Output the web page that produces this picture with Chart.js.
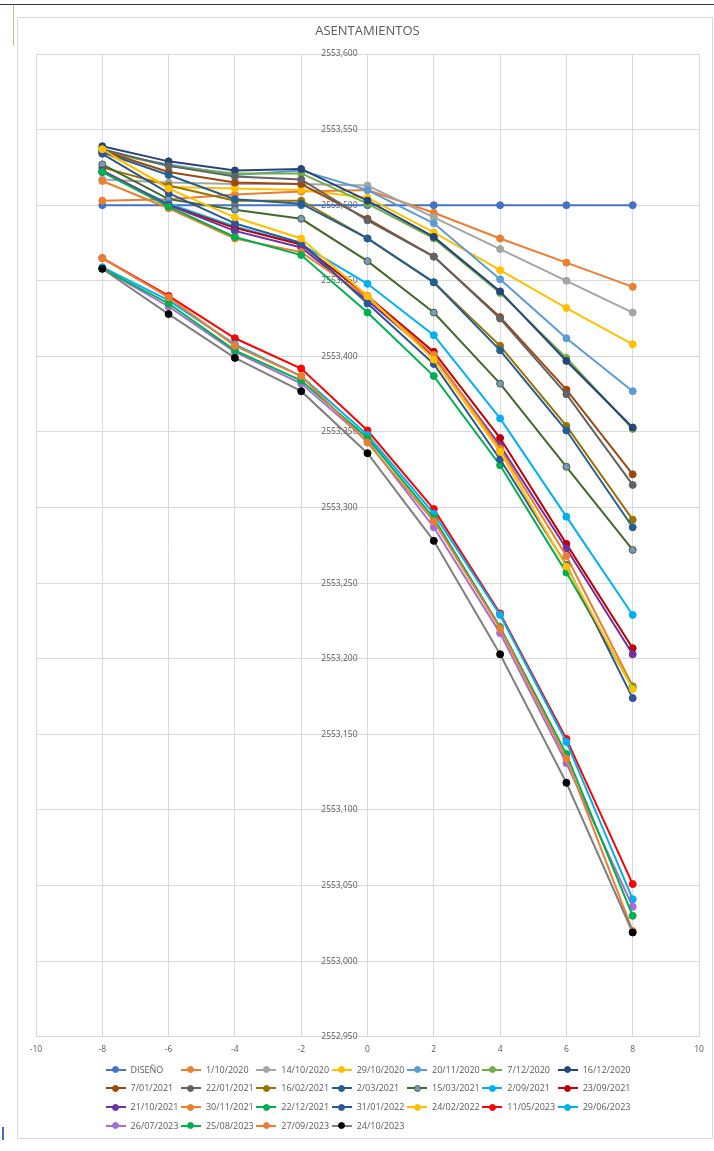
<!DOCTYPE html>
<html>
<head>
<meta charset="utf-8">
<script src="https://cdn.jsdelivr.net/npm/chart.js@4/dist/chart.umd.min.js"></script>
<style>
html,body{margin:0;padding:0;background:#fff;width:714px;height:1151px;overflow:hidden;font-family:"Open Sans",sans-serif;}
#topline{position:absolute;left:0;top:4px;width:714px;height:1px;background:#3a3a3a;}
#greenline{position:absolute;left:13px;top:5px;width:1px;height:40px;background:#a9c98a;}
#bluemark{position:absolute;left:2px;top:1127px;width:2px;height:13px;background:#4a6fb5;}
#frame{position:absolute;left:17px;top:17px;width:696px;height:1122px;border:1px solid #d9d9d9;box-sizing:border-box;}
#wrap{position:absolute;left:17px;top:17px;width:695px;height:1050px;}
#legend{position:absolute;left:0;top:0;width:714px;height:1151px;pointer-events:none;}
.item{position:absolute;height:12px;}
.item .ln{position:absolute;left:0;top:5px;width:20px;height:2px;}
.item .dt{position:absolute;left:6.5px;top:2.5px;width:7px;height:7px;border-radius:50%;box-sizing:border-box;}
.item .tx{position:absolute;left:25px;top:-1px;font-size:9px;line-height:13px;color:#595959;white-space:nowrap;font-family:"Open Sans",sans-serif;}
</style>
</head>
<body>
<div id="topline"></div>
<div id="greenline"></div>
<div id="bluemark"></div>
<div id="frame"></div>
<div id="wrap"><canvas id="c"></canvas></div>
<div id="legend"></div>
<script>
// ---- data ----
const xValues = [-8, -6, -4, -2, 0, 2, 4, 6, 8];
const seriesNames = ['DISEÑO','1/10/2020','14/10/2020','29/10/2020','20/11/2020','7/12/2020','16/12/2020',
  '7/01/2021','22/01/2021','16/02/2021','2/03/2021','15/03/2021','2/09/2021','23/09/2021',
  '21/10/2021','30/11/2021','22/12/2021','31/01/2022','24/02/2022','11/05/2023','29/06/2023',
  '26/07/2023','25/08/2023','27/09/2023','24/10/2023'];

const diseno     = [2553.500, 2553.500, 2553.500, 2553.500, 2553.500, 2553.500, 2553.500, 2553.500, 2553.500];
const d01_10_2020 = [2553.503, 2553.504, 2553.507, 2553.509, 2553.510, 2553.495, 2553.478, 2553.462, 2553.446];
const d14_10_2020 = [2553.517, 2553.515, 2553.514, 2553.514, 2553.513, 2553.492, 2553.471, 2553.450, 2553.429];
const d29_10_2020 = [2553.536, 2553.512, 2553.511, 2553.510, 2553.505, 2553.482, 2553.457, 2553.432, 2553.408];
const d20_11_2020 = [2553.535, 2553.527, 2553.520, 2553.523, 2553.510, 2553.488, 2553.451, 2553.412, 2553.377];
const d07_12_2020 = [2553.536, 2553.526, 2553.521, 2553.521, 2553.501, 2553.478, 2553.442, 2553.399, 2553.352];
const d16_12_2020 = [2553.539, 2553.529, 2553.523, 2553.524, 2553.503, 2553.479, 2553.443, 2553.397, 2553.353];
const d07_01_2021 = [2553.536, 2553.522, 2553.515, 2553.514, 2553.491, 2553.466, 2553.426, 2553.378, 2553.322];
const d22_01_2021 = [2553.537, 2553.526, 2553.519, 2553.517, 2553.490, 2553.466, 2553.425, 2553.375, 2553.315];
const d16_02_2021 = [2553.525, 2553.513, 2553.503, 2553.503, 2553.478, 2553.449, 2553.407, 2553.354, 2553.292];
const d02_03_2021 = [2553.535, 2553.520, 2553.504, 2553.501, 2553.478, 2553.449, 2553.404, 2553.351, 2553.287];
const d15_03_2021 = [2553.527, 2553.504, 2553.497, 2553.491, 2553.463, 2553.429, 2553.382, 2553.327, 2553.272];
const d02_09_2021 = [2553.522, 2553.501, 2553.486, 2553.474, 2553.448, 2553.414, 2553.359, 2553.294, 2553.229];
const d23_09_2021 = [2553.522, 2553.500, 2553.485, 2553.474, 2553.440, 2553.403, 2553.346, 2553.276, 2553.207];
const d21_10_2021 = [2553.523, 2553.500, 2553.483, 2553.472, 2553.437, 2553.400, 2553.341, 2553.273, 2553.203];
const d30_11_2021 = [2553.516, 2553.498, 2553.478, 2553.469, 2553.439, 2553.401, 2553.339, 2553.268, 2553.182];
const d22_12_2021 = [2553.522, 2553.499, 2553.479, 2553.467, 2553.429, 2553.387, 2553.328, 2553.257, 2553.181];
const d31_01_2022 = [2553.534, 2553.508, 2553.488, 2553.475, 2553.435, 2553.395, 2553.332, 2553.262, 2553.174];
const d24_02_2022 = [2553.537, 2553.511, 2553.492, 2553.478, 2553.440, 2553.398, 2553.337, 2553.261, 2553.180];
const d11_05_2023 = [2553.465, 2553.440, 2553.412, 2553.392, 2553.351, 2553.299, 2553.230, 2553.147, 2553.051];
const d29_06_2023 = [2553.459, 2553.437, 2553.408, 2553.387, 2553.348, 2553.296, 2553.229, 2553.145, 2553.041];
const d26_07_2023 = [2553.458, 2553.433, 2553.403, 2553.382, 2553.344, 2553.287, 2553.217, 2553.131, 2553.036];
const d25_08_2023 = [2553.458, 2553.435, 2553.404, 2553.384, 2553.346, 2553.293, 2553.221, 2553.137, 2553.030];
const d27_09_2023 = [2553.465, 2553.439, 2553.407, 2553.387, 2553.343, 2553.291, 2553.220, 2553.134, 2553.020];
const d24_10_2023 = [2553.458, 2553.428, 2553.399, 2553.377, 2553.336, 2553.278, 2553.203, 2553.118, 2553.019];

const seriesValues = [diseno, d01_10_2020, d14_10_2020, d29_10_2020, d20_11_2020, d07_12_2020, d16_12_2020,
  d07_01_2021, d22_01_2021, d16_02_2021, d02_03_2021, d15_03_2021, d02_09_2021, d23_09_2021,
  d21_10_2021, d30_11_2021, d22_12_2021, d31_01_2022, d24_02_2022, d11_05_2023, d29_06_2023,
  d26_07_2023, d25_08_2023, d27_09_2023, d24_10_2023];

// ---- styles ----
const lineColors = ['#4472C4','#ED7D31','#A5A5A5','#FFC000','#5B9BD5','#70AD47','#264478',
  '#9E480E','#636363','#997300','#255E91','#43682B','#00B0F0','#C00000',
  '#7030A0','#ED7D31','#00B050','#2F5597','#FFC000','#FF0000','#00B0F0',
  '#A66DD4','#00B050','#ED7D31','#7F7F7F'];
const markerFill = lineColors.slice();
markerFill[11] = '#7A96C4';
markerFill[24] = '#000000';
const markerBorder = markerFill.slice();
markerBorder[11] = '#43682B';

const datasets = seriesNames.map((name, i) => ({
  label: name,
  data: xValues.map((x, j) => ({x: x, y: seriesValues[i][j]})),
  borderColor: lineColors[i],
  backgroundColor: markerFill[i],
  pointBackgroundColor: markerFill[i],
  pointBorderColor: markerBorder[i],
  pointBorderWidth: 1,
  pointRadius: 3.5,
  borderWidth: 2,
  tension: 0,
  fill: false,
  order: -i
}));

const tickFont = {family: 'Open Sans', size: 8.5};

new Chart(document.getElementById('c'), {
  type: 'line',
  data: {datasets: datasets},
  options: {
    responsive: true,
    maintainAspectRatio: false,
    animation: false,
    layout: {padding: {left: 19, right: 13, top: 0, bottom: 4}},
    plugins: {
      legend: {display: false},
      tooltip: {enabled: false},
      title: {
        display: true, text: 'ASENTAMIENTOS', color: '#595959',
        font: {family: 'Open Sans', size: 13, weight: 'normal'},
        padding: {top: 6, bottom: 15.4}
      }
    },
    scales: {
      x: {
        type: 'linear', position: 'bottom', min: -10, max: 10,
        ticks: {stepSize: 2, color: '#595959', font: tickFont, padding: 8},
        grid: {color: '#D9D9D9', lineWidth: 1, drawTicks: false},
        border: {display: false}
      },
      y: {
        type: 'linear', position: 'center', min: 2552.95, max: 2553.6,
        ticks: {
          stepSize: 0.05, color: '#595959', font: tickFont, padding: 10,
          callback: (v) => Number(v).toFixed(3).replace('.', ',')
        },
        grid: {color: '#D9D9D9', lineWidth: 1, drawTicks: false},
        border: {display: false}
      }
    }
  }
});

// ---- legend (HTML, grid layout like the original) ----
const legend = document.getElementById('legend');
seriesNames.forEach((name, i) => {
  const col = i % 7, row = Math.floor(i / 7);
  const it = document.createElement('div');
  it.className = 'item';
  it.style.left = (105.6 + col * 75.35) + 'px';
  it.style.top = (1063.5 + row * 18.8) + 'px';
  const ln = document.createElement('div'); ln.className = 'ln'; ln.style.background = lineColors[i];
  const dt = document.createElement('div'); dt.className = 'dt'; dt.style.background = markerFill[i];
  dt.style.border = '1px solid ' + markerBorder[i];
  const tx = document.createElement('div'); tx.className = 'tx'; tx.textContent = name;
  it.appendChild(ln); it.appendChild(dt); it.appendChild(tx);
  legend.appendChild(it);
});
</script>
</body>
</html>
